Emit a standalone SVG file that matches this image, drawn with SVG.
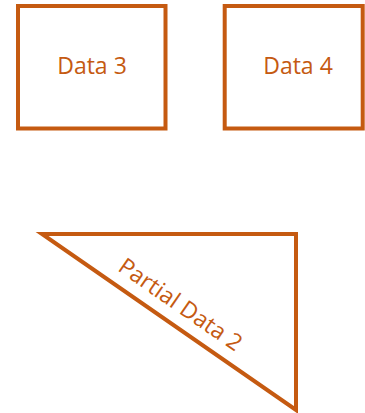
<svg xmlns="http://www.w3.org/2000/svg" width="365" height="413" viewBox="0 0 365 413">
<style>
.shape{fill:#FFFFFF;stroke:#C55A11;stroke-width:4}
.lbl{font-family:"Open Sans","Noto Sans",sans-serif;font-size:23px;fill:#C55A11;text-anchor:middle}
</style>
<rect width="365" height="413" fill="#FFFFFF"/>
<g id="data3">
<rect class="shape" x="18" y="6" width="147.5" height="122.5"/>
<text class="lbl" x="92" y="74">Data 3</text>
</g>
<g id="data4">
<rect class="shape" x="224.7" y="6" width="138" height="122.5"/>
<text class="lbl" x="298" y="74">Data 4</text>
</g>
<g id="partial2">
<polygon class="shape" points="42,234 296,234 296,410" stroke-linejoin="miter"/>
<text class="lbl" x="176" y="311" transform="rotate(34.7 176 311)">Partial Data 2</text>
</g>
<g id="connectors"/>
</svg>
